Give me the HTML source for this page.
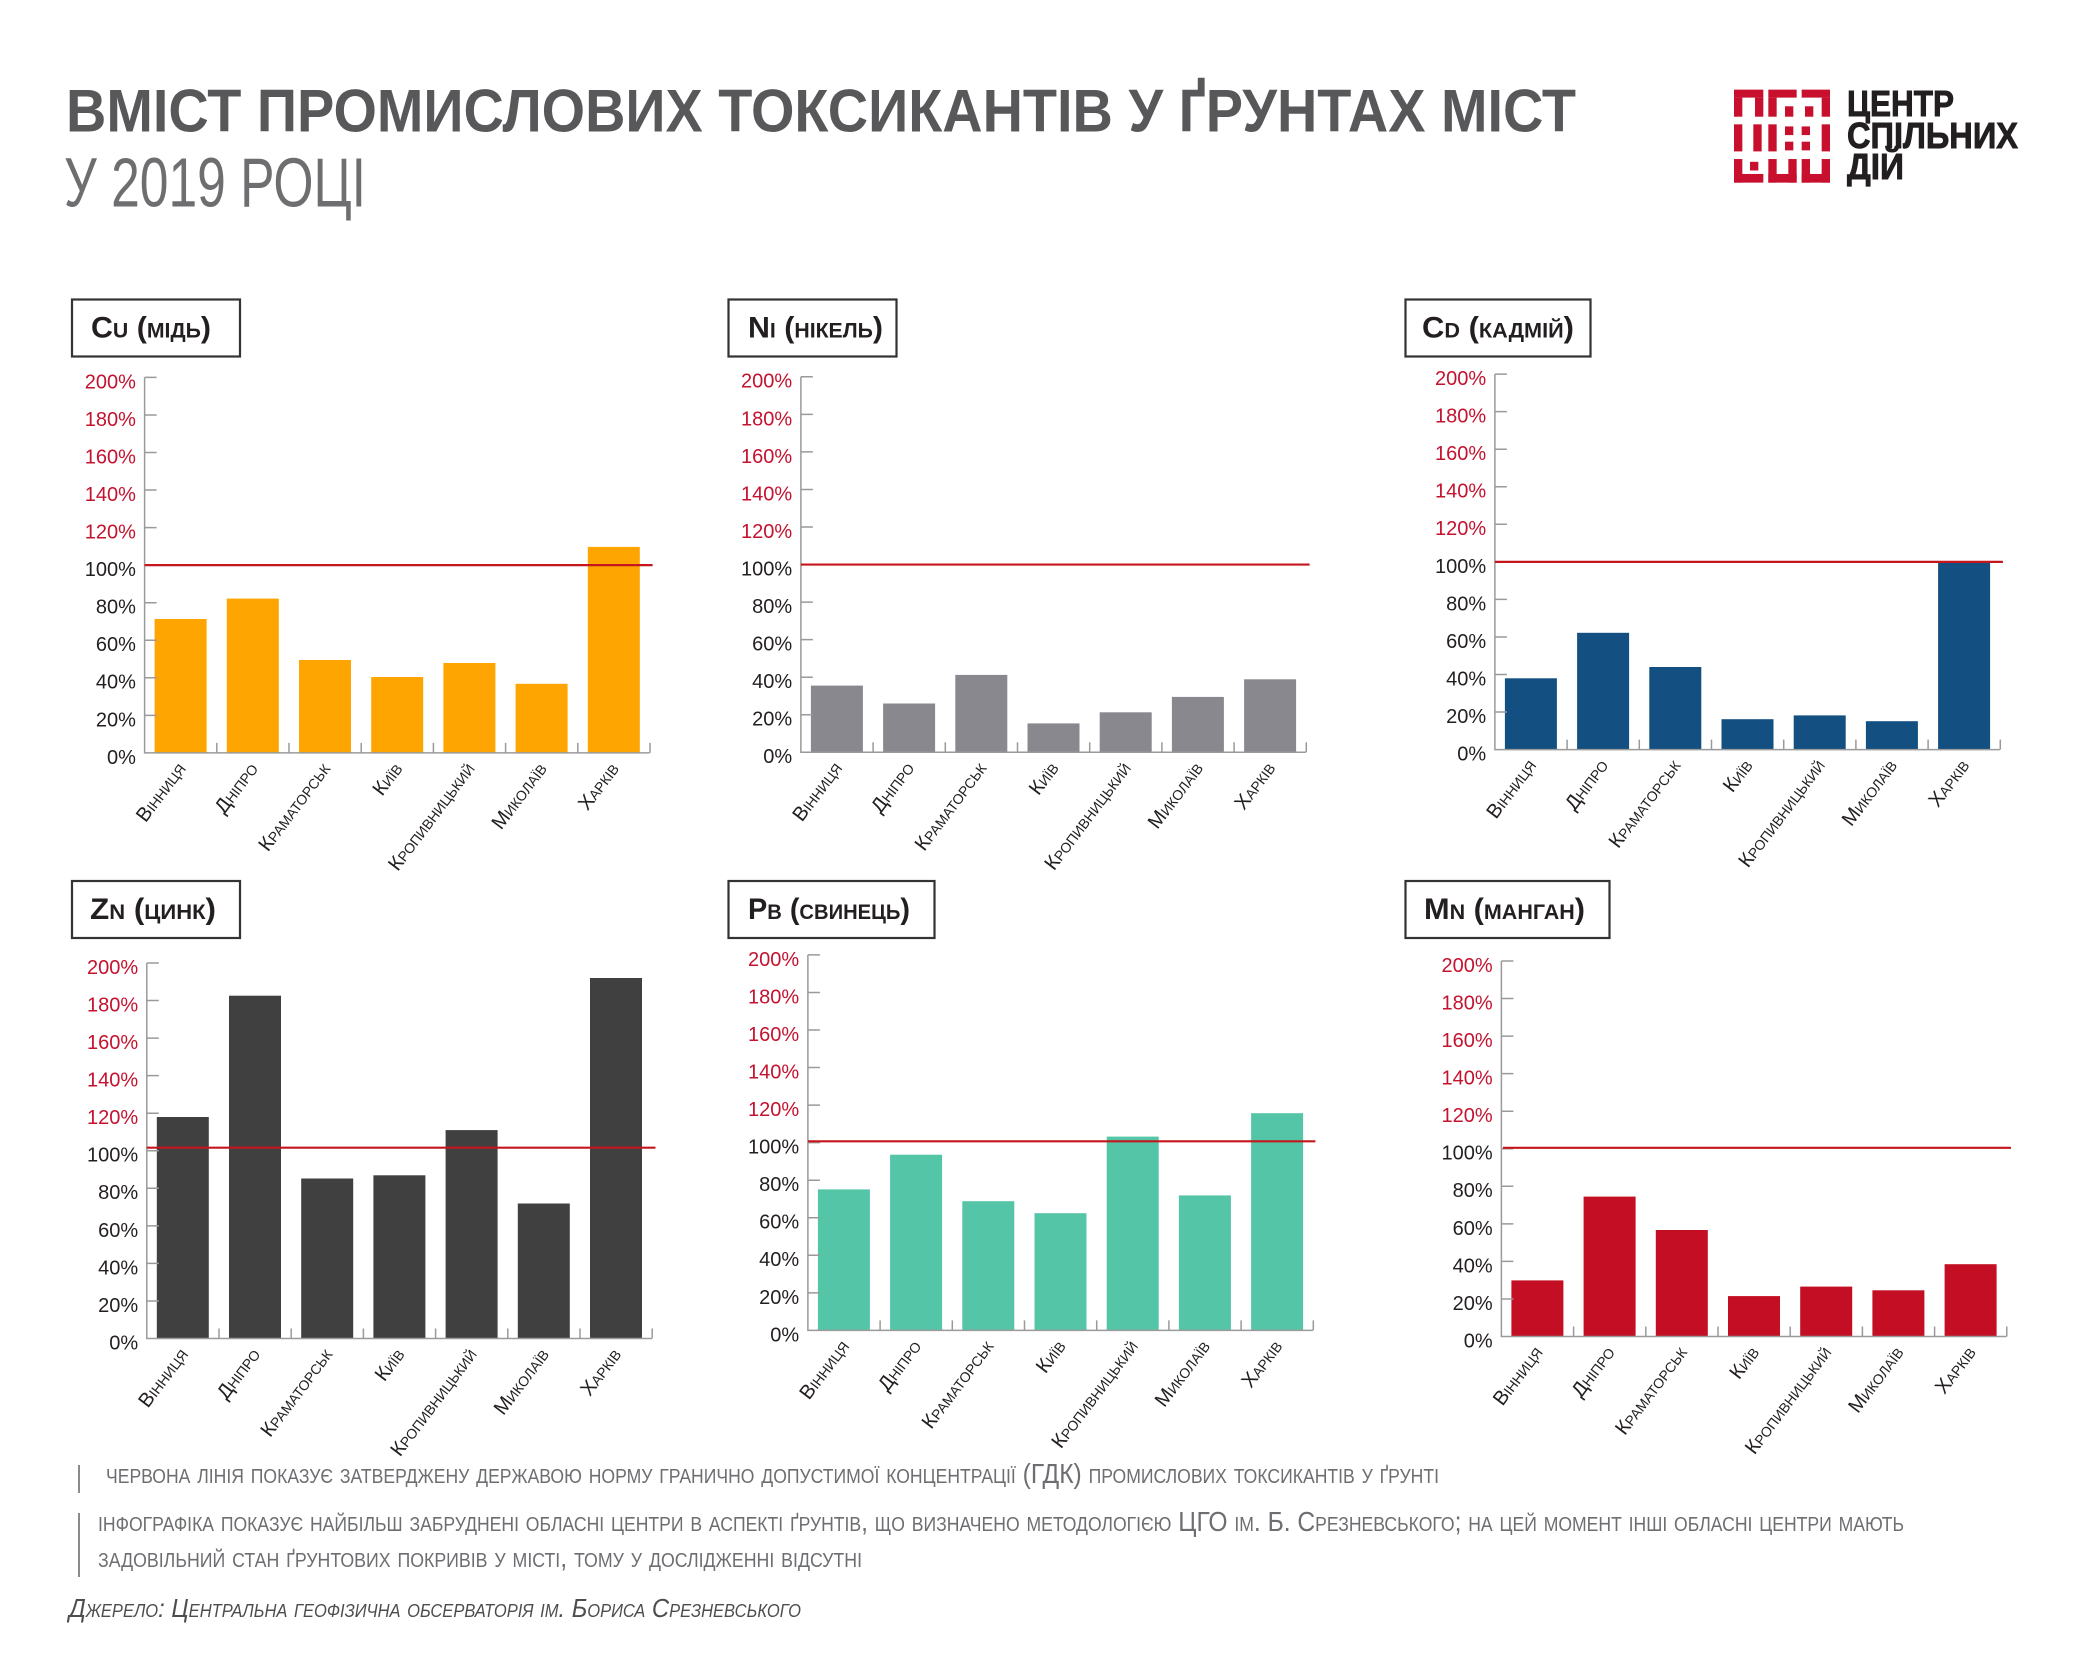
<!DOCTYPE html>
<html><head><meta charset="utf-8"><style>
html,body{margin:0;padding:0;background:#fff;}
svg{display:block;}
.tl{font-family:"Liberation Sans",sans-serif;font-size:20px;text-anchor:end;fill:#231f20;}
.r{fill:#c4122f;}
.cl{font-family:"Liberation Sans",sans-serif;font-size:20px;font-variant:small-caps;text-anchor:end;fill:#231f20;}
.bt{font-family:"Liberation Sans",sans-serif;font-size:30px;font-weight:bold;font-variant:small-caps;fill:#231f20;}
.ft{font-family:"Liberation Sans",sans-serif;font-size:28px;font-variant:small-caps;fill:#6d6e71;}
.ax{stroke:#9a9a9a;stroke-width:1.5;fill:none;}
.rl{stroke:#c4161c;stroke-width:2.2;}
.box{fill:none;stroke:#333;stroke-width:2.2;}
</style></head><body>
<svg width="2084" height="1667" viewBox="0 0 2084 1667" xmlns="http://www.w3.org/2000/svg">
<rect width="2084" height="1667" fill="#fff"/>

<!-- Title -->
<text x="66" y="131.7" font-family="Liberation Sans, sans-serif" font-size="60" font-weight="bold" fill="#58585b" textLength="1510" lengthAdjust="spacingAndGlyphs">ВМІСТ ПРОМИСЛОВИХ ТОКСИКАНТІВ У ҐРУНТАХ МІСТ</text>
<text x="64" y="206.7" font-family="Liberation Sans, sans-serif" font-size="70" fill="#6e6e71" textLength="302" lengthAdjust="spacingAndGlyphs">У 2019 РОЦІ</text>

<!-- Logo -->
<g transform="translate(1730,82) scale(0.3333,0.347)" fill="#c8102e">
<rect x="12" y="22" width="88" height="23"/><rect x="12" y="45" width="25" height="55"/><rect x="75" y="45" width="25" height="55"/>
<rect x="115" y="22" width="85" height="23"/><rect x="115" y="45" width="25" height="55"/><rect x="165" y="70" width="25" height="30"/>
<rect x="215" y="22" width="85" height="23"/><rect x="275" y="45" width="25" height="55"/><rect x="225" y="70" width="25" height="30"/>
<rect x="12" y="122" width="25" height="78"/><rect x="70" y="122" width="25" height="78"/>
<rect x="115" y="122" width="25" height="78"/><rect x="165" y="128" width="25" height="25"/><rect x="165" y="172" width="25" height="25"/>
<rect x="215" y="128" width="25" height="25"/><rect x="215" y="172" width="25" height="25"/><rect x="275" y="122" width="25" height="78"/>
<rect x="12" y="222" width="25" height="68"/><rect x="12" y="265" width="88" height="25"/><rect x="60" y="230" width="25" height="25"/>
<rect x="115" y="222" width="25" height="68"/><rect x="175" y="222" width="25" height="68"/><rect x="115" y="265" width="85" height="25"/>
<rect x="215" y="222" width="25" height="68"/><rect x="275" y="222" width="25" height="68"/><rect x="215" y="265" width="85" height="25"/>
</g>
<g font-family="Liberation Sans, sans-serif" font-size="36" font-weight="bold" fill="#231f20" stroke="#231f20" stroke-width="0.9">
<text x="1847" y="116" textLength="107" lengthAdjust="spacingAndGlyphs">ЦЕНТР</text>
<text x="1847" y="148" textLength="171" lengthAdjust="spacingAndGlyphs">СПІЛЬНИХ</text>
<text x="1847" y="179" textLength="57" lengthAdjust="spacingAndGlyphs">ДІЙ</text>
</g>

<!-- Title boxes -->
<rect class="box" x="72" y="299.5" width="168" height="57"/>
<text class="bt" x="91" y="337.7" textLength="120" lengthAdjust="spacingAndGlyphs">Cu (мідь)</text>
<rect class="box" x="728.5" y="299.5" width="168" height="57"/>
<text class="bt" x="748" y="337.7" textLength="135" lengthAdjust="spacingAndGlyphs">Ni (нікель)</text>
<rect class="box" x="1405.5" y="299.5" width="185" height="57"/>
<text class="bt" x="1422" y="337.7" textLength="152" lengthAdjust="spacingAndGlyphs">Cd (кадмій)</text>
<rect class="box" x="72" y="881" width="168" height="57"/>
<text class="bt" x="90" y="919" textLength="126" lengthAdjust="spacingAndGlyphs">Zn (цинк)</text>
<rect class="box" x="728.5" y="881" width="206" height="57"/>
<text class="bt" x="748" y="919" textLength="162" lengthAdjust="spacingAndGlyphs">Pb (свинець)</text>
<rect class="box" x="1405.5" y="881" width="204" height="57"/>
<text class="bt" x="1424" y="919" textLength="161" lengthAdjust="spacingAndGlyphs">Mn (манган)</text>

<!-- Chart Cu -->
<g transform="translate(144.6,752.9)">
<g fill="#fea501">
<rect x="10" y="-133.9" width="52" height="133.9"/><rect x="82.2" y="-154.3" width="52" height="154.3"/><rect x="154.4" y="-92.9" width="52" height="92.9"/><rect x="226.6" y="-75.9" width="52" height="75.9"/><rect x="298.8" y="-89.9" width="52" height="89.9"/><rect x="371" y="-69.1" width="52" height="69.1"/><rect x="443.2" y="-206" width="52" height="206"/>
</g>
<path class="ax" d="M0,-375.5V0H505 M0,-375.5h12 M0,-337.95h12 M0,-300.4h12 M0,-262.85h12 M0,-225.3h12 M0,-187.75h12 M0,-150.2h12 M0,-112.65h12 M0,-75.1h12 M0,-37.55h12 M72.2,0v-10 M144.4,0v-10 M216.6,0v-10 M288.8,0v-10 M361,0v-10 M433.2,0v-10 M505.4,0v-10"/>
<line class="rl" x1="0" y1="-187.75" x2="508" y2="-187.75"/>
<text class="tl" x="-8.7" y="10.9">0%</text><text class="tl" x="-8.7" y="-26.65">20%</text><text class="tl" x="-8.7" y="-64.2">40%</text><text class="tl" x="-8.7" y="-101.75">60%</text><text class="tl" x="-8.7" y="-139.3">80%</text><text class="tl" x="-8.7" y="-176.85">100%</text>
<text class="tl r" x="-8.7" y="-214.4">120%</text><text class="tl r" x="-8.7" y="-251.95">140%</text><text class="tl r" x="-8.7" y="-289.5">160%</text><text class="tl r" x="-8.7" y="-327.05">180%</text><text class="tl r" x="-8.7" y="-364.6">200%</text>
<text class="cl" transform="translate(42,16) rotate(-53)">Вінниця</text><text class="cl" transform="translate(114.2,16) rotate(-53)">Дніпро</text><text class="cl" transform="translate(186.4,16) rotate(-53)">Краматорськ</text><text class="cl" transform="translate(258.6,16) rotate(-53)">Київ</text><text class="cl" transform="translate(330.8,16) rotate(-53)">Кропивницький</text><text class="cl" transform="translate(403,16) rotate(-53)">Миколаїв</text><text class="cl" transform="translate(475.2,16) rotate(-53)">Харків</text>
</g>

<!-- Chart Ni -->
<g transform="translate(800.9,752.3)">
<g fill="#88888e">
<rect x="10" y="-66.7" width="52" height="66.7"/><rect x="82.2" y="-48.8" width="52" height="48.8"/><rect x="154.4" y="-77.4" width="52" height="77.4"/><rect x="226.6" y="-28.9" width="52" height="28.9"/><rect x="298.8" y="-40" width="52" height="40"/><rect x="371" y="-55.4" width="52" height="55.4"/><rect x="443.2" y="-73" width="52" height="73"/>
</g>
<path class="ax" d="M0,-375.5V0H505 M0,-375.5h12 M0,-337.95h12 M0,-300.4h12 M0,-262.85h12 M0,-225.3h12 M0,-187.75h12 M0,-150.2h12 M0,-112.65h12 M0,-75.1h12 M0,-37.55h12 M72.2,0v-10 M144.4,0v-10 M216.6,0v-10 M288.8,0v-10 M361,0v-10 M433.2,0v-10 M505.4,0v-10"/>
<line class="rl" x1="0" y1="-187.75" x2="508.7" y2="-187.75"/>
<text class="tl" x="-8.7" y="10.9">0%</text><text class="tl" x="-8.7" y="-26.65">20%</text><text class="tl" x="-8.7" y="-64.2">40%</text><text class="tl" x="-8.7" y="-101.75">60%</text><text class="tl" x="-8.7" y="-139.3">80%</text><text class="tl" x="-8.7" y="-176.85">100%</text>
<text class="tl r" x="-8.7" y="-214.4">120%</text><text class="tl r" x="-8.7" y="-251.95">140%</text><text class="tl r" x="-8.7" y="-289.5">160%</text><text class="tl r" x="-8.7" y="-327.05">180%</text><text class="tl r" x="-8.7" y="-364.6">200%</text>
<text class="cl" transform="translate(42,16) rotate(-53)">Вінниця</text><text class="cl" transform="translate(114.2,16) rotate(-53)">Дніпро</text><text class="cl" transform="translate(186.4,16) rotate(-53)">Краматорськ</text><text class="cl" transform="translate(258.6,16) rotate(-53)">Київ</text><text class="cl" transform="translate(330.8,16) rotate(-53)">Кропивницький</text><text class="cl" transform="translate(403,16) rotate(-53)">Миколаїв</text><text class="cl" transform="translate(475.2,16) rotate(-53)">Харків</text>
</g>

<!-- Chart Cd -->
<g transform="translate(1494.9,749.6)">
<g fill="#134f80">
<rect x="10" y="-71.3" width="52" height="71.3"/><rect x="82.2" y="-116.8" width="52" height="116.8"/><rect x="154.4" y="-82.6" width="52" height="82.6"/><rect x="226.6" y="-30.4" width="52" height="30.4"/><rect x="298.8" y="-34.2" width="52" height="34.2"/><rect x="371" y="-28.4" width="52" height="28.4"/><rect x="443.2" y="-187.8" width="52" height="187.8"/>
</g>
<path class="ax" d="M0,-375.5V0H505 M0,-375.5h12 M0,-337.95h12 M0,-300.4h12 M0,-262.85h12 M0,-225.3h12 M0,-187.75h12 M0,-150.2h12 M0,-112.65h12 M0,-75.1h12 M0,-37.55h12 M72.2,0v-10 M144.4,0v-10 M216.6,0v-10 M288.8,0v-10 M361,0v-10 M433.2,0v-10 M505.4,0v-10"/>
<line class="rl" x1="0" y1="-187.75" x2="508" y2="-187.75"/>
<text class="tl" x="-8.7" y="10.9">0%</text><text class="tl" x="-8.7" y="-26.65">20%</text><text class="tl" x="-8.7" y="-64.2">40%</text><text class="tl" x="-8.7" y="-101.75">60%</text><text class="tl" x="-8.7" y="-139.3">80%</text><text class="tl" x="-8.7" y="-176.85">100%</text>
<text class="tl r" x="-8.7" y="-214.4">120%</text><text class="tl r" x="-8.7" y="-251.95">140%</text><text class="tl r" x="-8.7" y="-289.5">160%</text><text class="tl r" x="-8.7" y="-327.05">180%</text><text class="tl r" x="-8.7" y="-364.6">200%</text>
<text class="cl" transform="translate(42,16) rotate(-53)">Вінниця</text><text class="cl" transform="translate(114.2,16) rotate(-53)">Дніпро</text><text class="cl" transform="translate(186.4,16) rotate(-53)">Краматорськ</text><text class="cl" transform="translate(258.6,16) rotate(-53)">Київ</text><text class="cl" transform="translate(330.8,16) rotate(-53)">Кропивницький</text><text class="cl" transform="translate(403,16) rotate(-53)">Миколаїв</text><text class="cl" transform="translate(475.2,16) rotate(-53)">Харків</text>
</g>

<!-- Chart Zn -->
<g transform="translate(146.8,1338.5)">
<g fill="#404040">
<rect x="10" y="-221.5" width="52" height="221.5"/><rect x="82.2" y="-342.8" width="52" height="342.8"/><rect x="154.4" y="-160" width="52" height="160"/><rect x="226.6" y="-163.2" width="52" height="163.2"/><rect x="298.8" y="-208.4" width="52" height="208.4"/><rect x="371" y="-135" width="52" height="135"/><rect x="443.2" y="-360.5" width="52" height="360.5"/>
</g>
<path class="ax" d="M0,-375.5V0H505 M0,-375.5h12 M0,-337.95h12 M0,-300.4h12 M0,-262.85h12 M0,-225.3h12 M0,-187.75h12 M0,-150.2h12 M0,-112.65h12 M0,-75.1h12 M0,-37.55h12 M72.2,0v-10 M144.4,0v-10 M216.6,0v-10 M288.8,0v-10 M361,0v-10 M433.2,0v-10 M505.4,0v-10"/>
<line class="rl" x1="0" y1="-190.8" x2="508.7" y2="-190.8"/>
<text class="tl" x="-8.7" y="10.9">0%</text><text class="tl" x="-8.7" y="-26.65">20%</text><text class="tl" x="-8.7" y="-64.2">40%</text><text class="tl" x="-8.7" y="-101.75">60%</text><text class="tl" x="-8.7" y="-139.3">80%</text><text class="tl" x="-8.7" y="-176.85">100%</text>
<text class="tl r" x="-8.7" y="-214.4">120%</text><text class="tl r" x="-8.7" y="-251.95">140%</text><text class="tl r" x="-8.7" y="-289.5">160%</text><text class="tl r" x="-8.7" y="-327.05">180%</text><text class="tl r" x="-8.7" y="-364.6">200%</text>
<text class="cl" transform="translate(42,16) rotate(-53)">Вінниця</text><text class="cl" transform="translate(114.2,16) rotate(-53)">Дніпро</text><text class="cl" transform="translate(186.4,16) rotate(-53)">Краматорськ</text><text class="cl" transform="translate(258.6,16) rotate(-53)">Київ</text><text class="cl" transform="translate(330.8,16) rotate(-53)">Кропивницький</text><text class="cl" transform="translate(403,16) rotate(-53)">Миколаїв</text><text class="cl" transform="translate(475.2,16) rotate(-53)">Харків</text>
</g>

<!-- Chart Pb -->
<g transform="translate(807.9,1330.4)">
<g fill="#55c5a8">
<rect x="10" y="-141" width="52" height="141"/><rect x="82.2" y="-175.7" width="52" height="175.7"/><rect x="154.4" y="-129.2" width="52" height="129.2"/><rect x="226.6" y="-117.2" width="52" height="117.2"/><rect x="298.8" y="-193.8" width="52" height="193.8"/><rect x="371" y="-135" width="52" height="135"/><rect x="443.2" y="-217.2" width="52" height="217.2"/>
</g>
<path class="ax" d="M0,-375.5V0H505 M0,-375.5h12 M0,-337.95h12 M0,-300.4h12 M0,-262.85h12 M0,-225.3h12 M0,-187.75h12 M0,-150.2h12 M0,-112.65h12 M0,-75.1h12 M0,-37.55h12 M72.2,0v-10 M144.4,0v-10 M216.6,0v-10 M288.8,0v-10 M361,0v-10 M433.2,0v-10 M505.4,0v-10"/>
<line class="rl" x1="0" y1="-189.1" x2="507.5" y2="-189.1"/>
<text class="tl" x="-8.7" y="10.9">0%</text><text class="tl" x="-8.7" y="-26.65">20%</text><text class="tl" x="-8.7" y="-64.2">40%</text><text class="tl" x="-8.7" y="-101.75">60%</text><text class="tl" x="-8.7" y="-139.3">80%</text><text class="tl" x="-8.7" y="-176.85">100%</text>
<text class="tl r" x="-8.7" y="-214.4">120%</text><text class="tl r" x="-8.7" y="-251.95">140%</text><text class="tl r" x="-8.7" y="-289.5">160%</text><text class="tl r" x="-8.7" y="-327.05">180%</text><text class="tl r" x="-8.7" y="-364.6">200%</text>
<text class="cl" transform="translate(42,16) rotate(-53)">Вінниця</text><text class="cl" transform="translate(114.2,16) rotate(-53)">Дніпро</text><text class="cl" transform="translate(186.4,16) rotate(-53)">Краматорськ</text><text class="cl" transform="translate(258.6,16) rotate(-53)">Київ</text><text class="cl" transform="translate(330.8,16) rotate(-53)">Кропивницький</text><text class="cl" transform="translate(403,16) rotate(-53)">Миколаїв</text><text class="cl" transform="translate(475.2,16) rotate(-53)">Харків</text>
</g>

<!-- Chart Mn -->
<g transform="translate(1501.4,1336.5)">
<g fill="#c30e23">
<rect x="10" y="-56.1" width="52" height="56.1"/><rect x="82.2" y="-139.9" width="52" height="139.9"/><rect x="154.4" y="-106.5" width="52" height="106.5"/><rect x="226.6" y="-40.4" width="52" height="40.4"/><rect x="298.8" y="-49.9" width="52" height="49.9"/><rect x="371" y="-46.2" width="52" height="46.2"/><rect x="443.2" y="-72.3" width="52" height="72.3"/>
</g>
<path class="ax" d="M0,-375.5V0H505 M0,-375.5h12 M0,-337.95h12 M0,-300.4h12 M0,-262.85h12 M0,-225.3h12 M0,-187.75h12 M0,-150.2h12 M0,-112.65h12 M0,-75.1h12 M0,-37.55h12 M72.2,0v-10 M144.4,0v-10 M216.6,0v-10 M288.8,0v-10 M361,0v-10 M433.2,0v-10 M505.4,0v-10"/>
<line class="rl" x1="1.6" y1="-188.7" x2="509.6" y2="-188.7"/>
<text class="tl" x="-8.7" y="10.9">0%</text><text class="tl" x="-8.7" y="-26.65">20%</text><text class="tl" x="-8.7" y="-64.2">40%</text><text class="tl" x="-8.7" y="-101.75">60%</text><text class="tl" x="-8.7" y="-139.3">80%</text><text class="tl" x="-8.7" y="-176.85">100%</text>
<text class="tl r" x="-8.7" y="-214.4">120%</text><text class="tl r" x="-8.7" y="-251.95">140%</text><text class="tl r" x="-8.7" y="-289.5">160%</text><text class="tl r" x="-8.7" y="-327.05">180%</text><text class="tl r" x="-8.7" y="-364.6">200%</text>
<text class="cl" transform="translate(42,16) rotate(-53)">Вінниця</text><text class="cl" transform="translate(114.2,16) rotate(-53)">Дніпро</text><text class="cl" transform="translate(186.4,16) rotate(-53)">Краматорськ</text><text class="cl" transform="translate(258.6,16) rotate(-53)">Київ</text><text class="cl" transform="translate(330.8,16) rotate(-53)">Кропивницький</text><text class="cl" transform="translate(403,16) rotate(-53)">Миколаїв</text><text class="cl" transform="translate(475.2,16) rotate(-53)">Харків</text>
</g>

<!-- Footer -->
<line x1="79" y1="1465" x2="79" y2="1493" stroke="#8a8a8a" stroke-width="2"/>
<line x1="79" y1="1513" x2="79" y2="1577" stroke="#8a8a8a" stroke-width="2"/>
<text class="ft" x="106" y="1483" textLength="1333" lengthAdjust="spacingAndGlyphs">червона лінія показує затверджену державою норму гранично допустимої концентрації (ГДК) промислових токсикантів у ґрунті</text>
<text class="ft" x="98" y="1531" textLength="1806" lengthAdjust="spacingAndGlyphs">інфографіка показує найбільш забруднені обласні центри в аспекті ґрунтів, що визначено методологією ЦГО ім. Б. Срезневського; на цей момент інші обласні центри мають</text>
<text class="ft" x="98" y="1567" textLength="764" lengthAdjust="spacingAndGlyphs">задовільний стан ґрунтових покривів у місті, тому у дослідженні відсутні</text>
<text x="69" y="1617" font-family="Liberation Sans, sans-serif" font-size="26" font-style="italic" fill="#4d4d4f" style="font-variant:small-caps" textLength="732" lengthAdjust="spacingAndGlyphs">Джерело: Центральна геофізична обсерваторія ім. Бориса Срезневського</text>
</svg>
</body></html>
